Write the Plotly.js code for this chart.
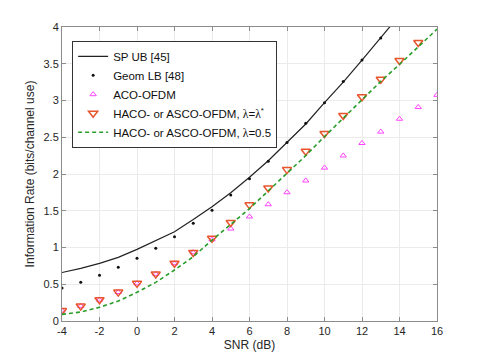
<!DOCTYPE html>
<html>
<head>
<meta charset="utf-8">
<script src="https://cdn.plot.ly/plotly-3.0.1.min.js"></script>
<style>
  html, body { margin: 0; padding: 0; background: #fff; }
  #chart { width: 482px; height: 361px; }
</style>
</head>
<body>
<div id="chart"></div>
<script>
// SNR grid in dB (integer steps)
const snr = [-4, -3, -2, -1, 0, 1, 2, 3, 4, 5, 6, 7, 8, 9, 10, 11, 12, 13, 14, 15, 16];

// SP UB [45] (goes out of frame above 4)
const snrUB = [-4, -3, -2, -1, 0, 1, 2, 3, 4, 5, 6, 7, 8, 9, 10, 11, 12, 13, 14];
const spUB = [0.66, 0.717, 0.785, 0.866, 0.975, 1.09, 1.215, 1.38, 1.555, 1.745, 1.955,
              2.18, 2.43, 2.68, 2.97, 3.25, 3.55, 3.85, 4.16];

// Geom LB [48]
const snrLB = [-4, -3, -2, -1, 0, 1, 2, 3, 4, 5, 6, 7, 8, 9, 10, 11, 12, 13];
const geomLB = [0.448, 0.526, 0.624, 0.73, 0.853, 0.989, 1.147, 1.329, 1.506, 1.714, 1.936,
                2.175, 2.43, 2.69, 2.97, 3.26, 3.55, 3.85];

// ACO-OFDM
const aco = [0.14, 0.205, 0.29, 0.393, 0.512, 0.64, 0.785, 0.933, 1.11, 1.256, 1.42,
             1.587, 1.75, 1.91, 2.085, 2.25, 2.42, 2.575, 2.75, 2.91, 3.075];

// HACO- or ASCO-OFDM, lambda = lambda*
const snrHaco = [-4, -3, -2, -1, 0, 1, 2, 3, 4, 5, 6, 7, 8, 9, 10, 11, 12, 13, 14, 15];
const hacoOpt = [0.143, 0.205, 0.29, 0.393, 0.512, 0.64, 0.785, 0.933, 1.125, 1.34, 1.58,
                 1.81, 2.06, 2.31, 2.55, 2.795, 3.05, 3.29, 3.545, 3.79];

// HACO- or ASCO-OFDM, lambda = 0.5
const haco05 = [0.09, 0.122, 0.186, 0.272, 0.39, 0.526, 0.694, 0.875, 1.10, 1.32, 1.53,
                1.77, 2.01, 2.25, 2.51, 2.76, 3.01, 3.26, 3.49, 3.73, 3.97];

const xTicks = [-4, -2, 0, 2, 4, 6, 8, 10, 12, 14, 16];
const yTicks = [0, 0.5, 1, 1.5, 2, 2.5, 3, 3.5, 4];

const lam = '<span style="font-family:\'Liberation Serif\',serif">λ</span>';

const traces = [
    {
        x: snrUB, y: spUB, name: 'SP UB [45]',
        mode: 'lines', type: 'scatter',
        line: {color: '#222222', width: 1.2}
    },
    {
        x: snrLB, y: geomLB, name: 'Geom LB [48]',
        mode: 'markers', type: 'scatter',
        marker: {color: '#111111', size: 3, symbol: 'circle'}
    },
    {
        x: snr, y: aco, name: 'ACO-OFDM',
        mode: 'markers', type: 'scatter',
        marker: {symbol: 'triangle-up-open', size: 5.5, color: '#ff44ff', line: {width: 1}}
    },
    {
        x: snrHaco, y: hacoOpt, name: 'HACO- or ASCO-OFDM, ' + lam + '=' + lam + '<sup>*</sup>',
        mode: 'markers', type: 'scatter',
        marker: {symbol: 'triangle-down-open', size: 8, color: '#e8552c', line: {width: 1.5}}
    },
    {
        x: snr, y: haco05, name: 'HACO- or ASCO-OFDM, ' + lam + '=0.5',
        mode: 'lines', type: 'scatter',
        line: {color: '#2a9d2a', width: 1.6, dash: '4px,3px'}
    }
];

const axisCommon = {
    showline: true, linecolor: '#8c8c8c', linewidth: 1,
    mirror: 'ticks', ticks: 'inside', ticklen: 4, tickcolor: '#8c8c8c',
    showgrid: true, gridcolor: '#ebebeb', gridwidth: 1,
    zeroline: false,
    tickfont: {family: 'Liberation Sans, Arial, sans-serif', size: 11, color: '#262626'}
};

const layout = {
    width: 482, height: 361,
    margin: {l: 62, r: 45, t: 27, b: 40},
    paper_bgcolor: '#ffffff', plot_bgcolor: '#ffffff',
    font: {family: 'Liberation Sans, Arial, sans-serif', color: '#262626'},
    xaxis: Object.assign({}, axisCommon, {
        range: [-4, 16], tickvals: xTicks, ticktext: xTicks.map(String),
        title: {text: 'SNR (dB)', font: {size: 12, color: '#262626'}, standoff: 4}
    }),
    yaxis: Object.assign({}, axisCommon, {
        range: [0, 4], tickvals: yTicks, ticktext: yTicks.map(String),
        title: {text: 'Information Rate (bits/channel use)', font: {size: 12, color: '#262626'}, standoff: 6}
    }),
    showlegend: true,
    legend: {
        x: 0.027, y: 0.953, xanchor: 'left', yanchor: 'top',
        bgcolor: '#ffffff', bordercolor: '#333333', borderwidth: 1,
        font: {family: 'Liberation Sans, Arial, sans-serif', size: 11.5, color: '#111111'},
        itemwidth: 30, tracegroupgap: 0
    }
};

Plotly.newPlot('chart', traces, layout, {displayModeBar: false, staticPlot: true});
</script>
</body>
</html>
